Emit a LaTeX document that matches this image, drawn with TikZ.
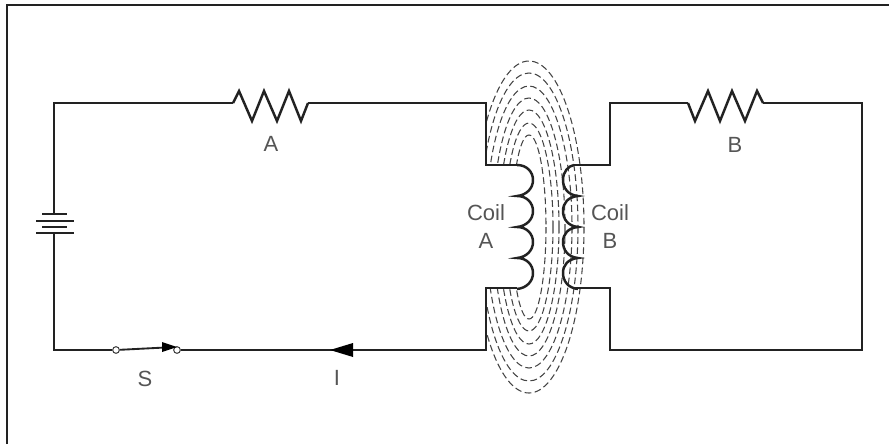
\documentclass[tikz,border=0pt]{standalone}
\usepackage{fontspec}
\setmainfont{Liberation Sans}
\definecolor{wirecol}{HTML}{222222}
\definecolor{fluxcol}{HTML}{444444}
\definecolor{labelcol}{HTML}{555555}
\begin{document}
\begin{tikzpicture}[x=0.75pt, y=-0.75pt,
    wire/.style={draw=wirecol, line width=1.85pt, line join=miter},
    flux/.style={draw=fluxcol, line width=0.8pt, dash pattern=on 5pt off 2.6pt},
    plate/.style={draw=wirecol, line width=1.5pt},
    terminal/.style={circle, draw=fluxcol, fill=white, line width=0.8pt, inner sep=0pt, minimum size=5pt},
    label text/.style={text=labelcol, font=\fontsize{16.5}{21}\selectfont, inner sep=0pt, align=center}]

    \useasboundingbox (0,0) rectangle (889,444);

    % Frame
    \coordinate (FL) at (7,444);
    \coordinate (FT) at (7,5);
    \coordinate (FR) at (889,5);
    \draw[wire] (FL) -- (FT) -- (FR);

    % Flux lines
    \begin{scope}
        \clip (486,0) -- (889,0) -- (889,444) -- (486,444) -- (486,288) -- (520,288) -- (520,165) -- (486,165) -- cycle;
        \foreach \a/\b in {17/92, 24/104, 30/117, 36/129, 43/141, 49/154, 55/166}
            \draw[flux] (529,227) ellipse [x radius=\a, y radius=\b];
    \end{scope}

    % Corners of the circuit
    \coordinate (TL) at (54,103);
    \coordinate (BL) at (54,350);
    \coordinate (RAin) at (233,103);
    \coordinate (RAout) at (308,103);
    \coordinate (A1) at (486,103);
    \coordinate (A2) at (486,165);
    \coordinate (A3) at (517,165);
    \coordinate (A4) at (517,288);
    \coordinate (A5) at (486,288);
    \coordinate (A6) at (486,350);
    \coordinate (B1) at (610,103);
    \coordinate (B2) at (610,165);
    \coordinate (B3) at (574,165);
    \coordinate (B4) at (574,288);
    \coordinate (B5) at (610,288);
    \coordinate (B6) at (610,350);
    \coordinate (B7) at (862,350);
    \coordinate (B8) at (862,103);
    \coordinate (RBin) at (688,103);
    \coordinate (RBout) at (763,103);
    \coordinate (P1) at (54,214);
    \coordinate (P4) at (54,233);

    % Switch and current arrow
    \node[terminal] (S1) at (116,350) {};
    \node[terminal] (S2) at (177,350) {};
    \coordinate (Arrow) at (330,350);

    % Left loop
    \draw[wire] (P1) -- (TL) -- (RAin);
    \draw[wire] (RAin) -- ++(6,-12) -- ++(13,30) -- ++(12,-30) -- ++(13,30) -- ++(12,-30) -- ++(12,30) -- (RAout);
    \draw[wire] (RAout) -- (A1) -- (A2) -- (A3);
    \draw[wire] (A4) -- (A5) -- (A6) -- (S2);
    \draw[wire] (S1) -- (BL) -- (P4);

    % Right loop
    \draw[wire] (B3) -- (B2) -- (B1) -- (RBin);
    \draw[wire] (RBin) -- ++(7,18) -- ++(13,-30) -- ++(12,30) -- ++(12,-30) -- ++(13,30) -- ++(12,-30) -- (RBout);
    \draw[wire] (RBout) -- (B8) -- (B7) -- (B6) -- (B5) -- (B4);

    % Coils
    \draw[wire] (A3) \foreach \y in {165,196,227,258} {
        .. controls (527,\y) and (533,\y+7) .. (533,\y+15) .. controls (533,\y+23) and (527,\y+30) .. (517,\y+31)};
    \draw[wire] (B3) \foreach \y in {165,196,227,258} {
        .. controls (568,\y+1) and (563,\y+7) .. (563,\y+15) .. controls (563,\y+23) and (568,\y+30) .. (578,\y+31)};

    % Battery
    \draw[plate] (42,214) -- (67,214);
    \draw[plate] (36,221) -- (74,221);
    \draw[plate] (42,227) -- (67,227);
    \draw[plate] (36,233) -- (74,233);

    % Switch blade and arrow heads
    \draw[wire, line width=1.4pt] (S1) -- (165,347.5);
    \fill[black] (177,347) -- (162,342) -- (162,352) -- cycle;
    \fill[black] (Arrow) -- (353,343) -- (353,357) -- cycle;

    % Labels
    \node[label text] (LA) at (271,144) {A};
    \node[label text] (LB) at (735,145) {B};
    \node[label text] (LS) at (145,379) {S};
    \node[label text] (LI) at (337,378) {I};
    \node[label text] (CA) at (486,227) {Coil\\A};
    \node[label text] (CB) at (610,227) {Coil\\B};

\end{tikzpicture}
\end{document}
